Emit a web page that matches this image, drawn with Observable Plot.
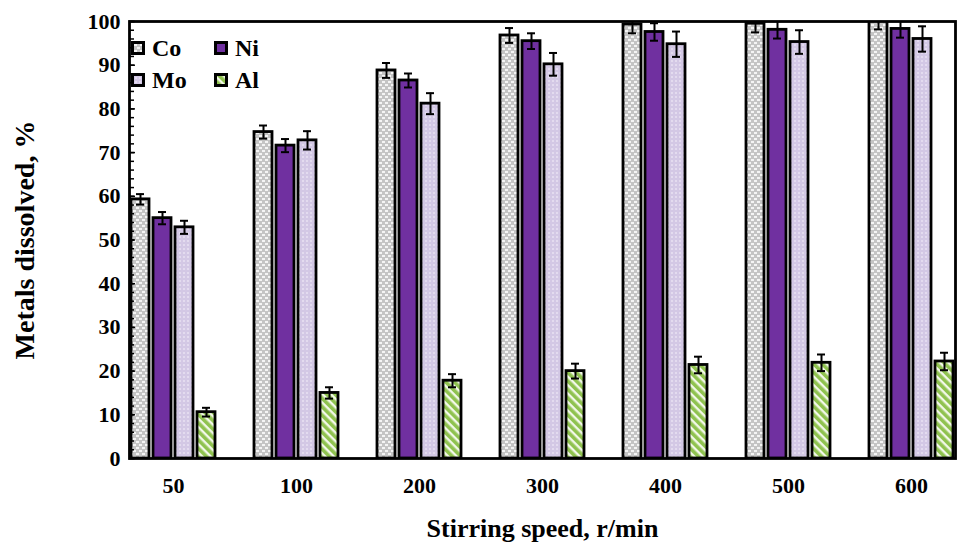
<!DOCTYPE html>
<html>
<head>
<meta charset="utf-8">
<script src="https://cdn.jsdelivr.net/npm/d3@7"></script>
<script src="https://cdn.jsdelivr.net/npm/@observablehq/plot@0.6"></script>
<style>
  html, body { margin: 0; padding: 0; background: white; }
  #wrap { position: relative; width: 960px; height: 543px; overflow: hidden; }
  #wrap svg.chart { overflow: hidden; }
  .leg { position: absolute; font-family: 'Liberation Serif', 'Times New Roman', serif; font-weight: bold; font-size: 24px; line-height: 1; color: black; }
  .sw { position: absolute; }
</style>
</head>
<body>
<svg width="0" height="0" style="position:absolute">
  <defs>
    <pattern id="pCo" width="6" height="6" patternUnits="userSpaceOnUse">
      <rect width="6" height="6" fill="#c4c4c4"/>
      <rect x="0" y="0" width="3" height="2" fill="#f4f4f4"/>
      <rect x="3" y="3" width="3" height="2" fill="#f4f4f4"/>
    </pattern>
    <pattern id="pMo" width="4" height="4" patternUnits="userSpaceOnUse">
      <rect width="4" height="4" fill="#d3c8e5"/>
      <rect x="0" y="0" width="2" height="2" fill="#e3dbef"/>
    </pattern>
    <pattern id="pAl" width="6" height="6" patternUnits="userSpaceOnUse" patternTransform="rotate(-45)">
      <rect width="6" height="6" fill="#f3f8ea"/>
      <rect width="3.6" height="6" fill="#8fc24f"/>
    </pattern>
  </defs>
</svg>
<div id="wrap"></div>
<script>
const speeds = ["50", "100", "200", "300", "400", "500", "600"];
const metals = ["Co", "Ni", "Mo", "Al"];
const coValues = [59.3, 74.7, 88.8, 96.8, 99.3, 99.5, 100.2];
const coErrors = [1.2, 1.5, 1.7, 1.7, 2.0, 2.0, 2.0];
const niValues = [55.0, 71.6, 86.5, 95.5, 97.6, 98.1, 98.3];
const niErrors = [1.4, 1.5, 1.6, 1.8, 2.0, 2.0, 2.0];
const moValues = [52.9, 72.8, 81.2, 90.2, 94.8, 95.3, 96.0];
const moErrors = [1.5, 2.1, 2.4, 2.6, 2.9, 2.7, 2.9];
const alValues = [10.6, 15.0, 17.8, 20.0, 21.4, 21.9, 22.2];
const alErrors = [1.0, 1.3, 1.5, 1.7, 1.9, 1.9, 2.0];
const yTicks = [0, 10, 20, 30, 40, 50, 60, 70, 80, 90, 100];
const yMinorTicks = d3.range(0, 101, 2);
const metalFills = ["url(#pCo)", "#7030a0", "url(#pMo)", "url(#pAl)"];

const series = {Co: [coValues, coErrors], Ni: [niValues, niErrors], Mo: [moValues, moErrors], Al: [alValues, alErrors]};
const data = [];
speeds.forEach((s, i) => {
  metals.forEach(m => {
    data.push({speed: s, metal: m, value: series[m][0][i], err: series[m][1][i]});
  });
});

const serif = "'Liberation Serif', 'Times New Roman', serif";

const chart = Plot.plot({
  width: 960,
  height: 543,
  marginLeft: 110,
  marginRight: -13,
  marginTop: 21,
  marginBottom: 85,
  style: {fontFamily: serif, fontWeight: "bold", fontSize: "22px", background: "white", color: "black"},
  fx: {domain: speeds, paddingInner: 0.286, paddingOuter: 0.143, label: null},
  x: {domain: metals, paddingInner: 0.17, paddingOuter: 0.05, axis: null},
  y: {domain: [0, 100], axis: null},
  color: {domain: metals, range: metalFills},
  marks: [
    Plot.barY(data, {fx: "speed", x: "metal", y: "value", fill: "metal", stroke: "black", strokeWidth: 2.8, clip: true}),
    Plot.ruleX(data, {fx: "speed", x: "metal", y1: d => d.value - d.err, y2: d => d.value + d.err, stroke: "black", strokeWidth: 2, clip: true}),
    Plot.tickY(data, {fx: "speed", x: "metal", y: d => d.value - d.err, stroke: "black", strokeWidth: 2, insetLeft: 5, insetRight: 5, clip: true}),
    Plot.tickY(data, {fx: "speed", x: "metal", y: d => d.value + d.err, stroke: "black", strokeWidth: 2, insetLeft: 5, insetRight: 5, clip: true}),
    Plot.frame({facet: "super", stroke: "black", strokeWidth: 2.8}),
    Plot.axisY(yMinorTicks, {tickSize: -5, tickFormat: () => "", label: null, strokeWidth: 1.5}),
    Plot.axisY(yTicks, {tickSize: -6, tickPadding: 15, label: "Metals dissolved, %", labelAnchor: "center", labelOffset: 115, strokeWidth: 1.5}),
    Plot.axisFx({anchor: "bottom", tickSize: 0, tickPadding: 19, label: "Stirring speed, r/min", labelAnchor: "center", labelOffset: 78})
  ]
});
chart.classList.add("chart");
d3.select(chart).selectAll('g[aria-label="y-axis label"]').attr("font-size", 28)
  .selectAll("text").text("Metals dissolved, %");
d3.select(chart).selectAll('g[aria-label="fx-axis label"]').attr("font-size", 26)
  .selectAll("text").text("Stirring speed, r/min");
const wrap = document.getElementById("wrap");
wrap.appendChild(chart);

// legend
const legendPos = [
  {m: "Co", x: 131, y: 41},
  {m: "Ni", x: 214, y: 41},
  {m: "Mo", x: 131, y: 73},
  {m: "Al", x: 214, y: 73}
];
legendPos.forEach(p => {
  const i = metals.indexOf(p.m);
  const sw = document.createElementNS("http://www.w3.org/2000/svg", "svg");
  sw.setAttribute("class", "sw");
  sw.setAttribute("width", 14); sw.setAttribute("height", 14);
  sw.style.left = p.x + "px"; sw.style.top = p.y + "px";
  sw.innerHTML = `<rect x="1.5" y="1.5" width="11" height="11" fill="${metalFills[i]}" stroke="black" stroke-width="3"/>`;
  wrap.appendChild(sw);
  const t = document.createElement("div");
  t.className = "leg";
  t.textContent = p.m;
  t.style.left = (p.x + 21) + "px";
  t.style.top = (p.y - 5) + "px";
  wrap.appendChild(t);
});
</script>
</body>
</html>
